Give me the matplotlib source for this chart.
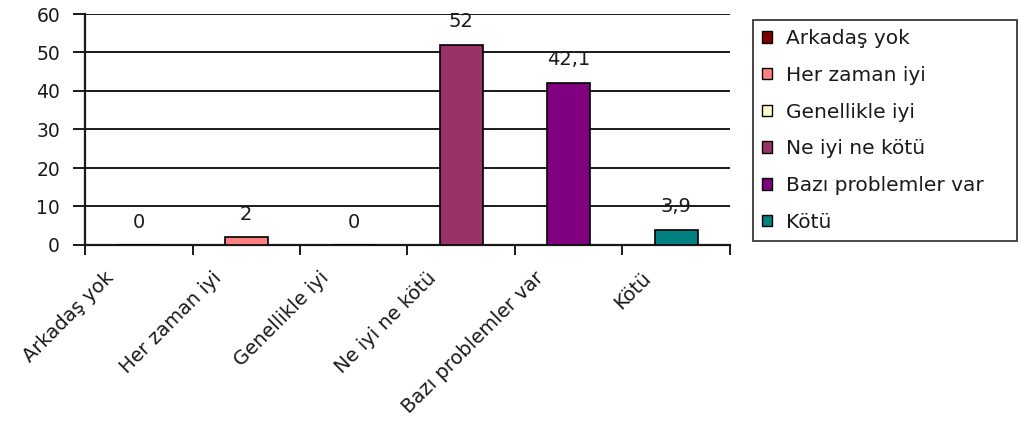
import matplotlib
matplotlib.use("Agg")
import matplotlib.pyplot as plt
import matplotlib.transforms as mtransforms
from matplotlib.patches import Patch

plt.rcParams['font.family'] = ['DejaVu Sans']

categories = ["Arkadaş yok", "Her zaman iyi", "Genellikle iyi",
              "Ne iyi ne kötü", "Bazı problemler var", "Kötü"]
values = [0, 2, 0, 52, 42.1, 3.9]
value_labels = ["0", "2", "0", "52", "42,1", "3,9"]
colors = ["#800000", "#FF8080", "#FFFFCC", "#993366", "#800080", "#008080"]
y_ticks = [0, 10, 20, 30, 40, 50, 60]

W, H = 1019, 423
INK = "#1a1a1a"
fig = plt.figure(figsize=(W / 100, H / 100), dpi=100)
ax = fig.add_axes([85 / W, 1 - 245 / H, (730 - 85) / W, (245 - 14) / H])

x = list(range(len(categories)))
for i, (v, c) in enumerate(zip(values, colors)):
    ax.bar(i, v, width=0.4, color=c, edgecolor="black", linewidth=1.2, zorder=3)

# value labels above each bar
off = mtransforms.offset_copy(ax.transData, fig=fig, x=0, y=23, units="dots")
for i, (v, lab) in enumerate(zip(values, value_labels)):
    ax.text(i, v, lab, transform=off, ha="center", va="center",
            fontsize=14, color=INK)

ax.set_xlim(-0.5, len(categories) - 0.5)
ax.set_ylim(0, 60)
ax.set_yticks(y_ticks)
ax.set_yticklabels([str(t) for t in y_ticks], fontsize=13.5, color=INK)
ax.yaxis.grid(True, color=INK, linewidth=1.4, zorder=0)
ax.set_axisbelow(True)
ax.tick_params(axis="y", length=9, width=1.4, color=INK, pad=9)

for s in ["top", "right"]:
    ax.spines[s].set_visible(False)
for s in ["left", "bottom"]:
    ax.spines[s].set_linewidth(1.6)
    ax.spines[s].set_color(INK)

# category boundaries get the tick marks, labels sit at the centres
ax.set_xticks([k - 0.5 for k in range(len(categories) + 1)], minor=True)
ax.tick_params(axis="x", which="minor", length=7, width=1.4, color=INK)
ax.set_xticks(x)
ax.set_xticklabels(categories, rotation=45, ha="right", va="center",
                   rotation_mode="anchor", fontsize=14, color=INK)
ax.tick_params(axis="x", which="major", length=0, pad=10)
shift = mtransforms.ScaledTranslation(-28 / 100, -16 / 100, fig.dpi_scale_trans)
for lbl in ax.get_xticklabels():
    lbl.set_transform(lbl.get_transform() + shift)

handles = [Patch(facecolor=c, edgecolor="black", linewidth=1.0) for c in colors]
leg = fig.legend(handles, categories, loc="upper left", mode="expand",
                 bbox_to_anchor=(753 / W, 1 - 237 / H, (1017 - 753) / W, (237 - 20) / H),
                 bbox_transform=fig.transFigure,
                 fontsize=14.5, frameon=True, fancybox=False, edgecolor=INK,
                 handlelength=0.5, handleheight=0.5, handletextpad=0.7,
                 labelspacing=0.88, borderpad=0.45, borderaxespad=0)
leg.get_frame().set_linewidth(1.4)
for t in leg.get_texts():
    t.set_color(INK)

fig.savefig("out.png", dpi=100, facecolor="white")
